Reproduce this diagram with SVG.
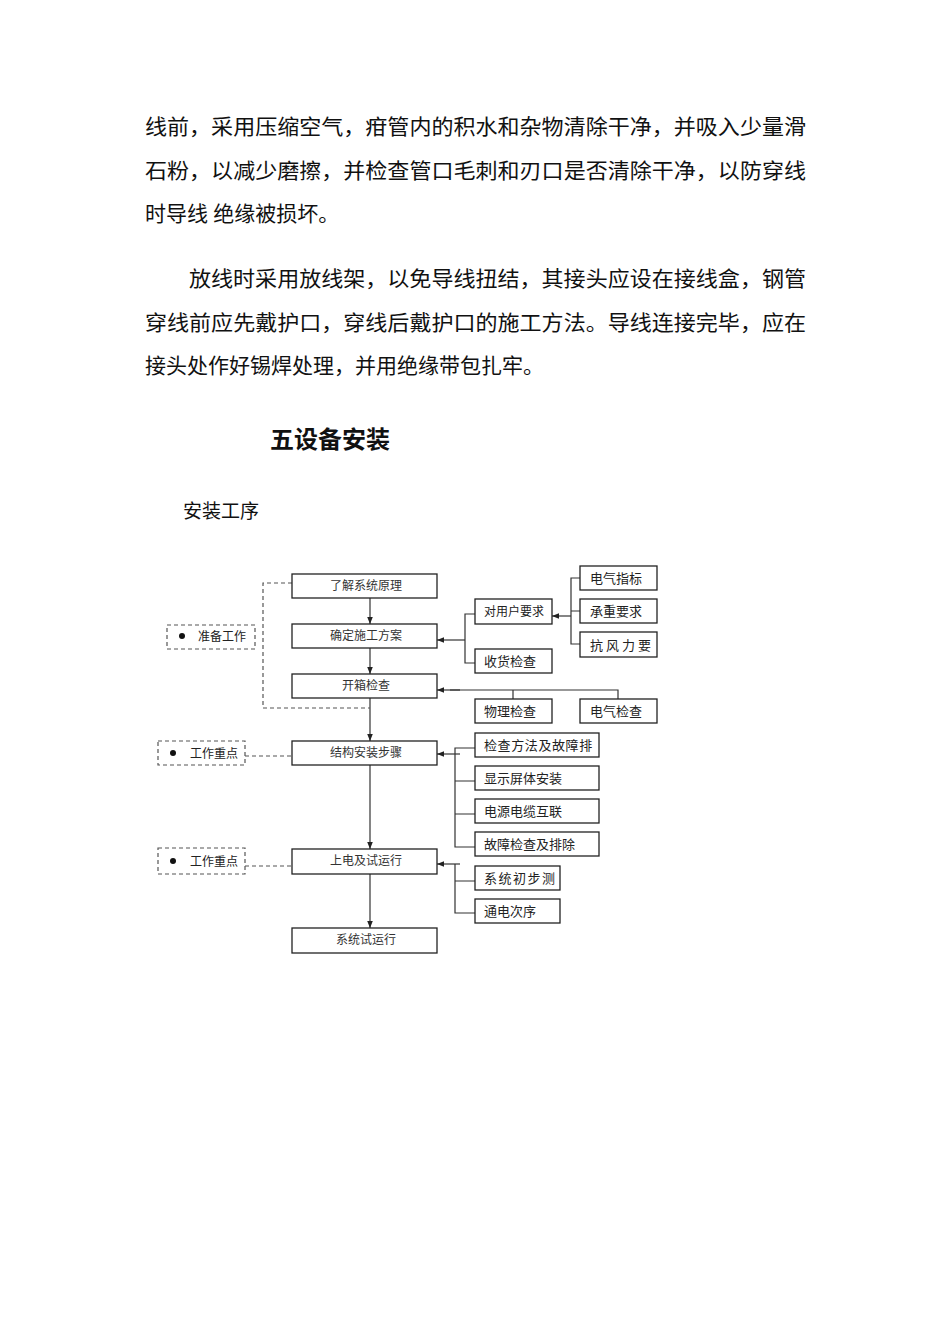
<svg xmlns="http://www.w3.org/2000/svg" width="950" height="1344" viewBox="0 0 950 1344">
<style>
.body{font-family:"Liberation Serif","Noto Sans CJK SC",serif;font-size:21px;fill:#111}
.head{font-family:"Noto Sans CJK SC",sans-serif;font-size:24px;font-weight:bold;fill:#111}
.box{fill:#fff;stroke:#222;stroke-width:1.3}
.dbox{fill:#fff;stroke:#555;stroke-width:1.2;stroke-dasharray:4,3}
.lbl{font-family:"Noto Sans CJK SC",sans-serif;font-size:13px;fill:#222}
.lbs{font-family:"Noto Sans CJK SC",sans-serif;font-size:12px;fill:#222}
.lblc{font-family:"Noto Sans CJK SC",sans-serif;font-size:12px;fill:#333;text-anchor:middle}
.ln{fill:none;stroke:#333;stroke-width:1.2}
.dl{fill:none;stroke:#555;stroke-width:1.2;stroke-dasharray:4,3}
</style>
<defs>
<marker id="ah" viewBox="0 0 10 10" refX="10" refY="5" markerWidth="7" markerHeight="7" orient="auto" markerUnits="userSpaceOnUse">
<path d="M0,1 L10,5 L0,9 z" fill="#222"/>
</marker>
</defs>
<rect width="950" height="1344" fill="#fff"/>
<g id="text">
<text class="body" x="145" y="134" textLength="661" lengthAdjust="spacingAndGlyphs">线前，采用压缩空气，疳管内的积水和杂物清除干净，并吸入少量滑</text>
<text class="body" x="145" y="178" textLength="661" lengthAdjust="spacingAndGlyphs">石粉，以减少磨擦，并检查管口毛刺和刃口是否清除干净，以防穿线</text>
<text class="body" x="145" y="221">时导线 绝缘被损坏。</text>
<text class="body" x="189" y="286" textLength="617" lengthAdjust="spacingAndGlyphs">放线时采用放线架，以免导线扭结，其接头应设在接线盒，钢管</text>
<text class="body" x="145" y="330" textLength="661" lengthAdjust="spacingAndGlyphs">穿线前应先戴护口，穿线后戴护口的施工方法。导线连接完毕，应在</text>
<text class="body" x="145" y="373">接头处作好锡焊处理，并用绝缘带包扎牢。</text>
<text class="head" x="270" y="448">五设备安装</text>
<text class="body" x="183" y="518" style="font-size:19px">安装工序</text>
</g>
<g id="connectors">
<line class="ln" x1="370" y1="598" x2="370" y2="624" marker-end="url(#ah)"/>
<line class="ln" x1="370" y1="648" x2="370" y2="674" marker-end="url(#ah)"/>
<line class="ln" x1="370" y1="698" x2="370" y2="741" marker-end="url(#ah)"/>
<line class="ln" x1="370" y1="765" x2="370" y2="849" marker-end="url(#ah)"/>
<line class="ln" x1="370" y1="874" x2="370" y2="928" marker-end="url(#ah)"/>
<path class="dl" d="M292,583 H263 V708 H370"/>
<line class="dl" x1="245" y1="756" x2="293" y2="756"/>
<line class="dl" x1="245" y1="866" x2="293" y2="866"/>
<path class="ln" d="M580,578 H571 V644 H580 M571,611 H580"/>
<line class="ln" x1="571" y1="616" x2="552" y2="616" marker-end="url(#ah)"/>
<path class="ln" d="M475,614 H465 V663 H475"/>
<line class="ln" x1="465" y1="640" x2="437" y2="640" marker-end="url(#ah)"/>
<path class="ln" d="M513,699 V690 M618,699 V690 H450"/>
<line class="ln" x1="460" y1="690" x2="437" y2="690" marker-end="url(#ah)"/>
<path class="ln" d="M475,748 H455 V847 H475 M455,781 H475 M455,814 H475"/>
<line class="ln" x1="460" y1="754" x2="437" y2="754" marker-end="url(#ah)"/>
<path class="ln" d="M475,881 H455 V913 H475 M455,864 V881"/>
<line class="ln" x1="460" y1="864" x2="437" y2="864" marker-end="url(#ah)"/>
</g>
<g id="n1"><rect class="box" x="292" y="574" width="145" height="24"/><text class="lblc" x="366" y="590">了解系统原理</text></g>
<g id="n2"><rect class="box" x="292" y="624" width="145" height="24"/><text class="lblc" x="366" y="640">确定施工方案</text></g>
<g id="n3"><rect class="box" x="292" y="674" width="145" height="24"/><text class="lblc" x="366" y="690">开箱检查</text></g>
<g id="n4"><rect class="box" x="292" y="741" width="145" height="24"/><text class="lblc" x="366" y="757">结构安装步骤</text></g>
<g id="n5"><rect class="box" x="292" y="849" width="145" height="25"/><text class="lblc" x="366" y="865">上电及试运行</text></g>
<g id="n6"><rect class="box" x="292" y="928" width="145" height="25"/><text class="lblc" x="366" y="944">系统试运行</text></g>
<g id="d1"><rect class="dbox" x="167" y="625" width="88" height="24"/><circle cx="182" cy="636" r="3" fill="#111"/><text class="lbs" x="198" y="641">准备工作</text></g>
<g id="d2"><rect class="dbox" x="158" y="741" width="87" height="24"/><circle cx="173" cy="753" r="3" fill="#111"/><text class="lbs" x="190" y="758">工作重点</text></g>
<g id="d3"><rect class="dbox" x="158" y="848" width="87" height="26"/><circle cx="173" cy="861" r="3" fill="#111"/><text class="lbs" x="190" y="866">工作重点</text></g>
<g id="r1"><rect class="box" x="580" y="566" width="77" height="24"/><text class="lbl" x="590" y="583">电气指标</text></g>
<g id="r2"><rect class="box" x="580" y="599" width="77" height="24"/><text class="lbl" x="590" y="616">承重要求</text></g>
<g id="r3"><rect class="box" x="580" y="632" width="77" height="25"/><text class="lbl" x="590" y="650" letter-spacing="3">抗风力要</text></g>
<g id="r4"><rect class="box" x="475" y="599" width="77" height="25"/><text class="lbs" x="484" y="616">对用户要求</text></g>
<g id="r5"><rect class="box" x="475" y="649" width="77" height="24"/><text class="lbl" x="484" y="666">收货检查</text></g>
<g id="r6"><rect class="box" x="475" y="699" width="77" height="24"/><text class="lbl" x="484" y="716">物理检查</text></g>
<g id="r7"><rect class="box" x="580" y="699" width="77" height="24"/><text class="lbl" x="590" y="716">电气检查</text></g>
<g id="r8"><rect class="box" x="475" y="733" width="124" height="24"/><text class="lbl" x="484" y="750" letter-spacing="0.6">检查方法及故障排</text></g>
<g id="r9"><rect class="box" x="475" y="766" width="124" height="24"/><text class="lbl" x="484" y="783">显示屏体安装</text></g>
<g id="r10"><rect class="box" x="475" y="799" width="124" height="24"/><text class="lbl" x="484" y="816">电源电缆互联</text></g>
<g id="r11"><rect class="box" x="475" y="832" width="124" height="24"/><text class="lbl" x="484" y="849">故障检查及排除</text></g>
<g id="r12"><rect class="box" x="475" y="866" width="85" height="24"/><text class="lbl" x="484" y="883" letter-spacing="1.5">系统初步测</text></g>
<g id="r13"><rect class="box" x="475" y="899" width="85" height="24"/><text class="lbl" x="484" y="916">通电次序</text></g>
</svg>
